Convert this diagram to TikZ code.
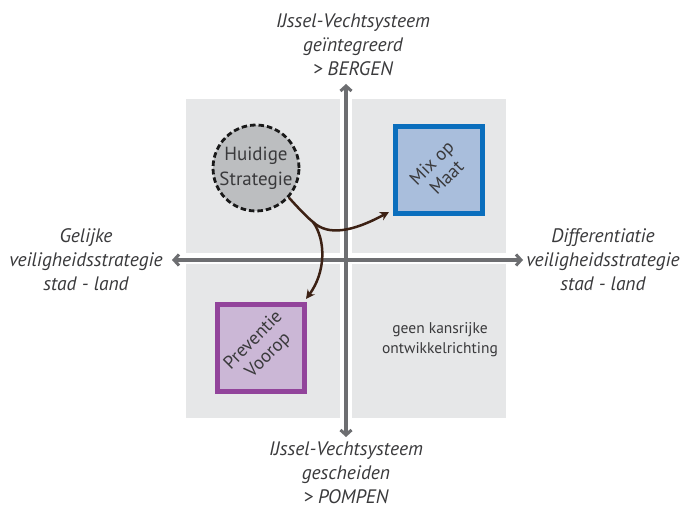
\documentclass[tikz,border=0pt]{standalone}
\usepackage{fontspec}
\setmainfont{PT Sans}
\usetikzlibrary{arrows.meta}
\definecolor{quad}{HTML}{E6E7E8}
\definecolor{axis}{HTML}{6D6E71}
\definecolor{circfill}{HTML}{BCBEC0}
\definecolor{txt}{HTML}{3A3A3C}
\definecolor{mixborder}{HTML}{0A6EBD}
\definecolor{mixfill}{HTML}{A9BEDC}
\definecolor{prevborder}{HTML}{92449B}
\definecolor{prevfill}{HTML}{CBB7D6}
\definecolor{brownline}{HTML}{3C2114}
\tikzset{
  quadbox/.style={fill=quad, draw=none, minimum width=154pt, minimum height=154pt, inner sep=0pt},
  axisline/.style={draw=axis, line width=3.5pt, {Straight Barb[length=5pt,width=11pt,line width=3pt]}-{Straight Barb[length=5pt,width=11pt,line width=3pt]}},
  axlabel/.style={font=\fontsize{19.5}{24}\selectfont\itshape, text=txt, align=center, inner sep=0pt},
  strategybox/.style={minimum width=87pt, minimum height=87pt, line width=5pt, inner sep=0pt},
  boxtext/.style={rotate=45, font=\fontsize{18.5}{21}\selectfont, text=txt, align=center, inner sep=0pt},
  flowarrow/.style={draw=brownline, line width=2.5pt, -{Stealth[length=9pt,width=9pt]}}
}
\begin{document}
\begin{tikzpicture}[x=1pt,y=-1pt]
\fill[white] (0,0) rectangle (686,510);
\useasboundingbox (0,0) rectangle (686,510);
% quadrants
\node[quadbox] (q1) at (263,176) {};
\node[quadbox] (q2) at (429,176) {};
\node[quadbox] (q3) at (263,341) {};
\node[quadbox] (q4) at (429,341) {};
% axes
\coordinate (top) at (346,84);
\coordinate (bot) at (346,437);
\coordinate (lft) at (172,260);
\coordinate (rgt) at (523,260);
\draw[axisline] (bot) -- (top);
\draw[axisline] (lft) -- (rgt);
% axis labels
\node[axlabel] (ltop) at (353,45) {IJssel-Vechtsysteem\\geïntegreerd\\> BERGEN};
\node[axlabel] (lbot) at (346,473) {IJssel-Vechtsysteem\\gescheiden\\> POMPEN};
\node[axlabel] (llft) at (86,260) {Gelijke\\veiligheidsstrategie\\stad - land};
\node[axlabel] (lrgt) at (603,260) {Differentiatie\\veiligheidsstrategie\\stad - land};
% current strategy
\node[circle, minimum size=86pt, inner sep=0pt, fill=circfill, draw=black!90, line width=2.8pt, dash pattern=on 5.5pt off 3pt, font=\fontsize{19}{25}\selectfont, text=txt, align=center] (hs) at (256,168) {Huidige\\Strategie};
% strategy boxes
\node[strategybox, draw=mixborder, fill=mixfill] (mix) at (439,170) {};
\node[boxtext] (mixtxt) at (mix.center) {Mix op\\Maat};
\node[strategybox, draw=prevborder, fill=prevfill] (prev) at (261,348) {};
\node[boxtext] (prevtxt) at (prev.center) {Preventie\\Voorop};
% no-go text
\node[font=\fontsize{15.5}{20}\selectfont, text=txt, align=center] (geen) at (440,340) {geen kansrijke\\ontwikkelrichting};
% flow arrows
\coordinate (split) at (313,222);
\coordinate (mixin) at (389,212);
\coordinate (previn) at (306,299);
\draw[flowarrow] (hs.-42) .. controls (300,210) and (308,218) .. (split) .. controls (328,236) and (352,232) .. (mixin);
\draw[flowarrow] (split) .. controls (326,240) and (326,272) .. (previn);
\end{tikzpicture}
\end{document}
